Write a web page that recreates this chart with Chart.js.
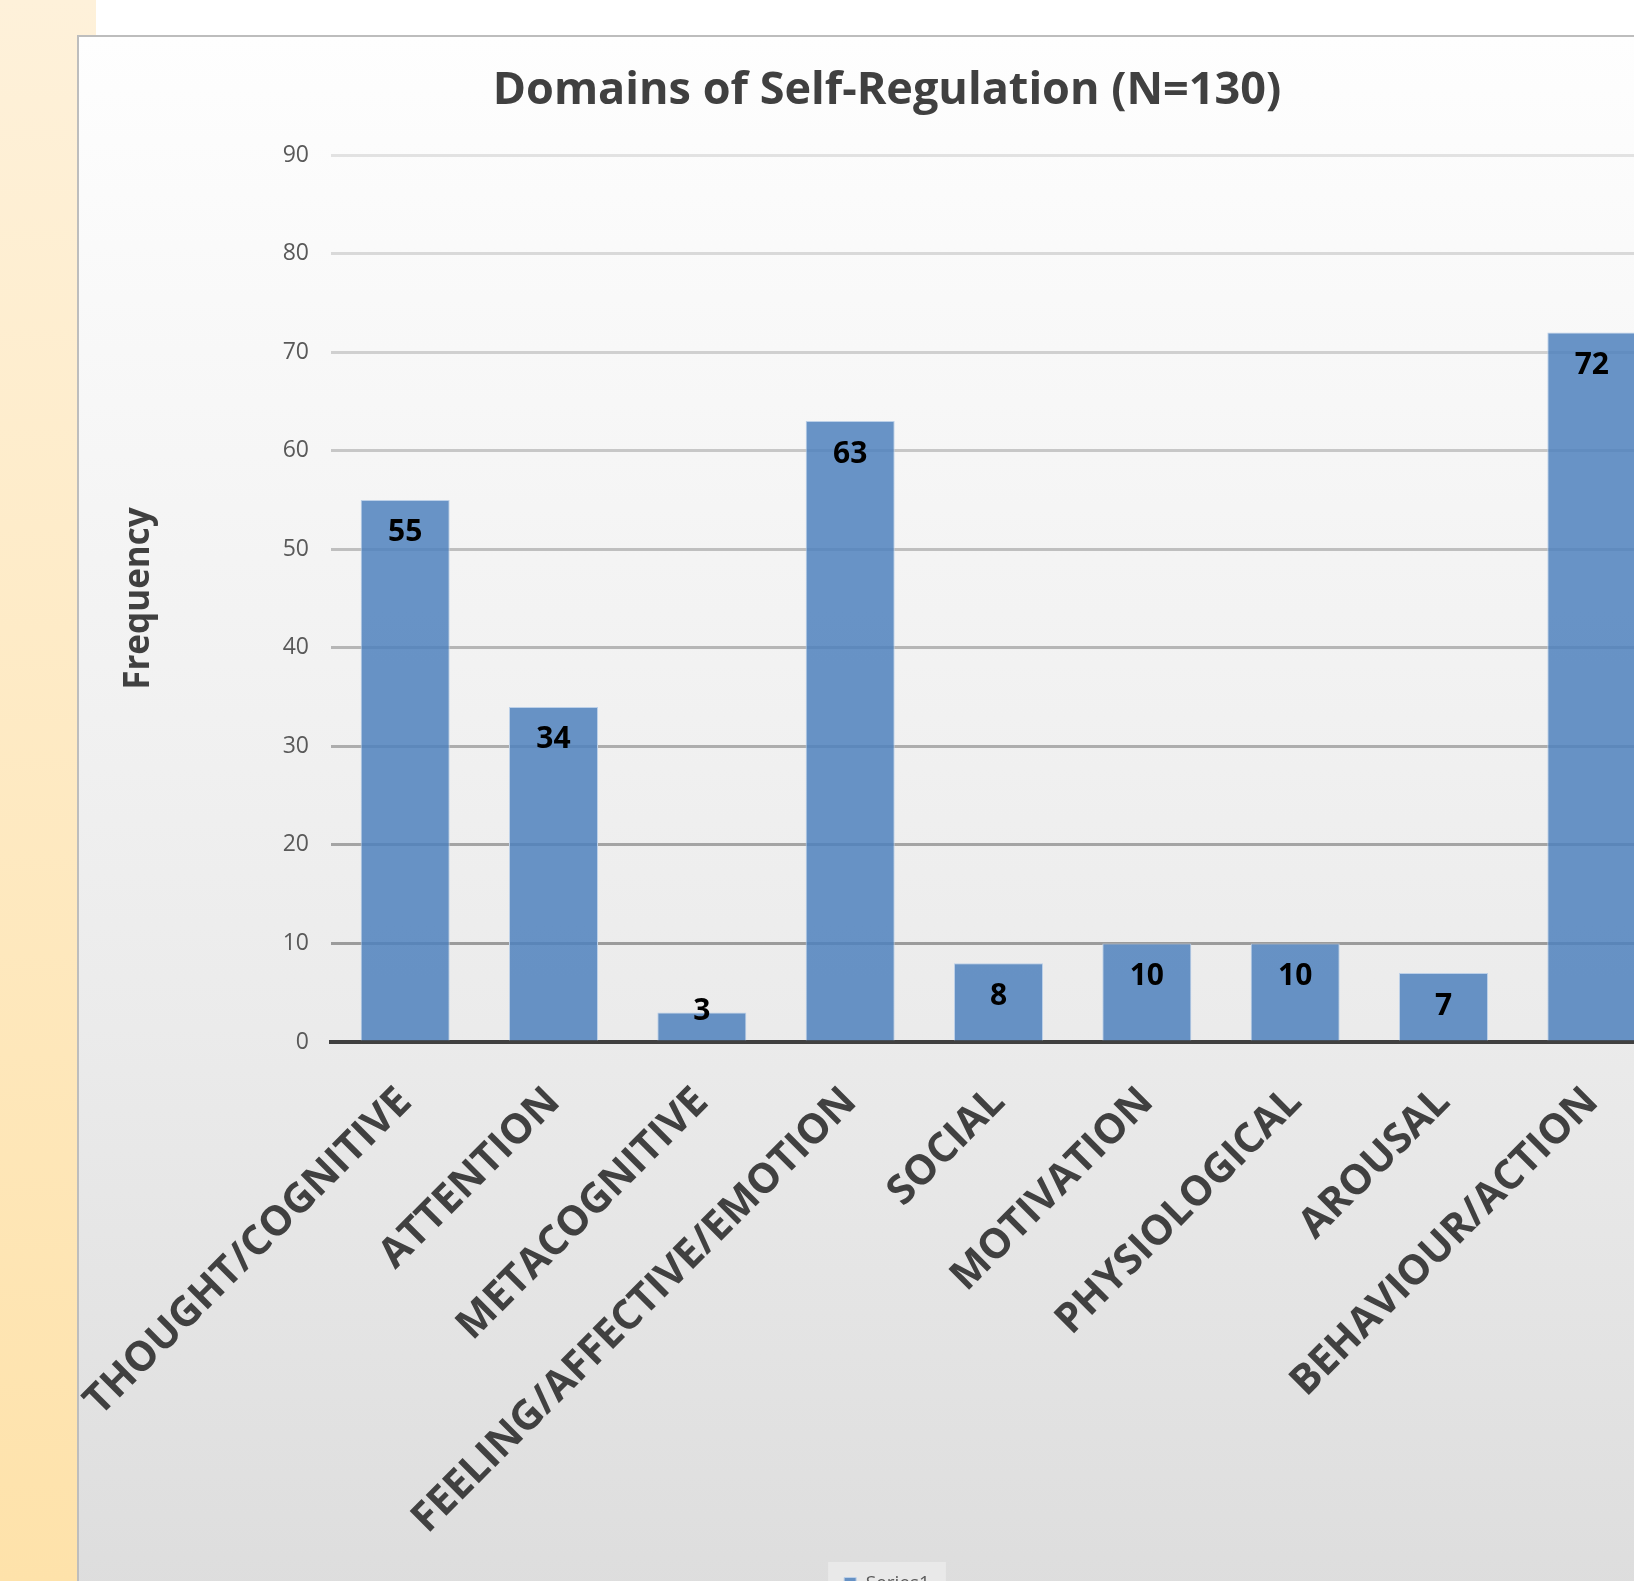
<!DOCTYPE html>
<html lang="en">
<head>
  <meta charset="UTF-8">
  <title>Domains of Self-Regulation</title>
  <script src="https://cdn.jsdelivr.net/npm/chart.js"></script>
  <style>
    body {
      margin: 0;
      width: 1634px;
      height: 1581px;
      overflow: hidden;
      background: #ffffff;
      position: relative;
      font-family: "Open Sans", Arial, sans-serif;
    }
    #strip {
      position: absolute;
      left: 0;
      top: 0;
      width: 96px;
      height: 1581px;
      background: linear-gradient(to bottom, #fef1da, #fee2aa);
    }
    #frame {
      position: absolute;
      left: 77px;
      top: 35px;
      width: 1616px;
      height: 1600px;
      border-left: 2px solid #bdbdbd;
      border-top: 2px solid #bdbdbd;
      background: linear-gradient(to bottom, #fefefe 0%, #ebebeb 62%, #dcdcdc 100%);
    }
    #chart-container {
      width: 1616px;
      height: 1600px;
    }
  </style>
</head>
<body>
  <div id="strip"></div>
  <div id="frame">
    <div id="chart-container">
      <canvas id="myChart"></canvas>
    </div>
  </div>

  <script>
    // data
    const categories = ['THOUGHT/COGNITIVE', 'ATTENTION', 'METACOGNITIVE', 'FEELING/AFFECTIVE/EMOTION',
      'SOCIAL', 'MOTIVATION', 'PHYSIOLOGICAL', 'AROUSAL', 'BEHAVIOUR/ACTION'];
    const frequencies = [55, 34, 3, 63, 8, 10, 10, 7, 72];
    const yTicks = [0, 10, 20, 30, 40, 50, 60, 70, 80, 90];
    const seriesName = 'Series1';

    // value labels inside the top of each bar
    const barLabels = {
      id: 'barLabels',
      afterDatasetsDraw(chart) {
        const ctx = chart.ctx;
        const meta = chart.getDatasetMeta(0);
        ctx.save();
        ctx.font = 'bold 30px "Open Sans"';
        ctx.fillStyle = '#000000';
        ctx.textAlign = 'center';
        ctx.textBaseline = 'middle';
        meta.data.forEach((bar, i) => {
          const h = bar.base - bar.y;
          // small bars: label sits on the top edge
          const y = h < 50 ? bar.y - 1 : bar.y + 33;
          ctx.fillText(String(frequencies[i]), bar.x, y);
        });
        ctx.restore();
      }
    };

    // light box behind the legend
    const legendBox = {
      id: 'legendBox',
      beforeDraw(chart) {
        const lg = chart.legend;
        if (!lg || !lg.legendHitBoxes.length) return;
        const hb = lg.legendHitBoxes[0];
        const ctx = chart.ctx;
        ctx.save();
        ctx.fillStyle = 'rgba(255,255,255,0.35)';
        ctx.fillRect(hb.left - 16, lg.top, hb.width + 32, lg.height + 20);
        ctx.restore();
      }
    };

    // gridlines get darker towards the bottom
    function gridColor(c) {
      const v = c.tick ? c.tick.value : 0;
      if (v === 0) return 'rgba(0,0,0,0)';
      const t = (v - 10) / 80;
      const g = Math.round(155 + t * (226 - 155));
      return `rgb(${g},${g},${g})`;
    }

    const ctx = document.getElementById('myChart').getContext('2d');
    const myChart = new Chart(ctx, {
      type: 'bar',
      data: {
        labels: categories,
        datasets: [{
          label: seriesName,
          data: frequencies,
          backgroundColor: 'rgba(79,129,189,0.85)',
          borderColor: '#bcd0e8',
          borderWidth: 1,
          barPercentage: 0.6,
          categoryPercentage: 1.0
        }]
      },
      options: {
        responsive: true,
        maintainAspectRatio: false,
        animation: false,
        layout: {
          autoPadding: false,
          padding: { left: 0, right: 0, top: 0, bottom: 34 }
        },
        plugins: {
          title: {
            display: true,
            text: 'Domains of Self-Regulation (N=130)',
            color: '#404040',
            font: { family: 'Open Sans', size: 45, weight: 'bold' },
            padding: { top: 27, bottom: 37 }
          },
          legend: {
            display: true,
            position: 'bottom',
            labels: {
              color: '#595959',
              font: { family: 'Open Sans', size: 19 },
              boxWidth: 12,
              boxHeight: 12,
              padding: 12
            }
          },
          tooltip: { enabled: false }
        },
        scales: {
          x: {
            grid: { display: false },
            border: { display: true, color: '#404040', width: 4 },
            ticks: {
              color: '#404040',
              font: { family: 'Open Sans', size: 41, weight: 'bold' },
              minRotation: 45,
              maxRotation: 45,
              autoSkip: false,
              padding: 28
            },
            afterFit(scale) {
              scale.height = 520;
              // keep the rotated labels from pushing the plot area
              scale.paddingLeft = 0;
              scale.paddingRight = 0;
            }
          },
          y: {
            min: 0,
            max: 90,
            afterBuildTicks(scale) {
              scale.ticks = yTicks.map(v => ({ value: v }));
            },
            grid: { color: gridColor, lineWidth: 3, drawTicks: false },
            border: { display: false },
            ticks: {
              color: '#595959',
              font: { family: 'Open Sans', size: 23 },
              padding: 22
            },
            title: {
              display: true,
              text: 'Frequency',
              color: '#404040',
              font: { family: 'Open Sans', size: 35, weight: 'bold' },
              padding: { top: 39, bottom: 0 }
            },
            afterFit(scale) {
              scale.width = 252;
            }
          },
          // empty strip on the right, the plot runs past the frame edge
          yPad: {
            type: 'linear',
            position: 'right',
            grid: { display: false },
            border: { display: false },
            ticks: { display: false },
            afterFit(scale) {
              scale.width = 29;
            }
          }
        }
      },
      plugins: [legendBox, barLabels]
    });
  </script>
</body>
</html>
